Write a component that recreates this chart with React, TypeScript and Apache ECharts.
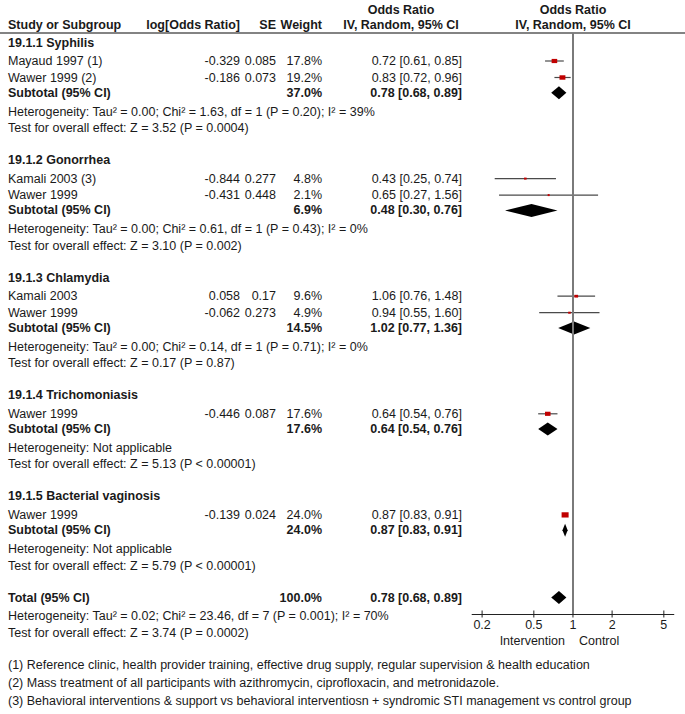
import React, { useEffect, useRef } from "react";
import * as echarts from "echarts";

// ---------------- data ----------------
const groupNames = [
  "19.1.1 Syphilis",
  "19.1.2 Gonorrhea",
  "19.1.3 Chlamydia",
  "19.1.4 Trichomoniasis",
  "19.1.5 Bacterial vaginosis",
];
const studyNames = [
  "Mayaud 1997 (1)",
  "Wawer 1999 (2)",
  "Kamali 2003 (3)",
  "Wawer 1999",
  "Kamali 2003",
  "Wawer 1999",
  "Wawer 1999",
  "Wawer 1999",
];
const studyGroup = [0, 0, 1, 1, 2, 2, 3, 4];
const studyLogOR = ["-0.329", "-0.186", "-0.844", "-0.431", "0.058", "-0.062", "-0.446", "-0.139"];
const studySE = ["0.085", "0.073", "0.277", "0.448", "0.17", "0.273", "0.087", "0.024"];
const studyWeight = [17.8, 19.2, 4.8, 2.1, 9.6, 4.9, 17.6, 24.0];
const studyOR = [0.72, 0.83, 0.43, 0.65, 1.06, 0.94, 0.64, 0.87];
const studyLo = [0.61, 0.72, 0.25, 0.27, 0.76, 0.55, 0.54, 0.83];
const studyHi = [0.85, 0.96, 0.74, 1.56, 1.48, 1.6, 0.76, 0.91];

const subtotalWeight = [37.0, 6.9, 14.5, 17.6, 24.0];
const subtotalOR = [0.78, 0.48, 1.02, 0.64, 0.87];
const subtotalLo = [0.68, 0.3, 0.77, 0.54, 0.83];
const subtotalHi = [0.89, 0.76, 1.36, 0.76, 0.91];
const heterogeneityTexts = [
  "Heterogeneity: Tau² = 0.00; Chi² = 1.63, df = 1 (P = 0.20); I² = 39%",
  "Heterogeneity: Tau² = 0.00; Chi² = 0.61, df = 1 (P = 0.43); I² = 0%",
  "Heterogeneity: Tau² = 0.00; Chi² = 0.14, df = 1 (P = 0.71); I² = 0%",
  "Heterogeneity: Not applicable",
  "Heterogeneity: Not applicable",
];
const overallEffectTexts = [
  "Test for overall effect: Z = 3.52 (P = 0.0004)",
  "Test for overall effect: Z = 3.10 (P = 0.002)",
  "Test for overall effect: Z = 0.17 (P = 0.87)",
  "Test for overall effect: Z = 5.13 (P < 0.00001)",
  "Test for overall effect: Z = 5.79 (P < 0.00001)",
];

const totalLabel = "Total (95% CI)";
const totalWeight = 100.0;
const totalOR = 0.78;
const totalLo = 0.68;
const totalHi = 0.89;
const totalHeterogeneity = "Heterogeneity: Tau² = 0.02; Chi² = 23.46, df = 7 (P = 0.001); I² = 70%";
const totalOverallEffect = "Test for overall effect: Z = 3.74 (P = 0.0002)";

const axisTicks = [0.2, 0.5, 1, 2, 5];
const favoursLabels = ["Intervention", "Control"];
const headerTop = ["Odds Ratio", "Odds Ratio"];
const headerColumns = ["Study or Subgroup", "log[Odds Ratio]", "SE", "Weight", "IV, Random, 95% CI", "IV, Random, 95% CI"];
const subtotalLabel = "Subtotal (95% CI)";
const footnotes = [
  "(1) Reference clinic, health provider training, effective drug supply, regular supervision & health education",
  "(2) Mass treatment of all participants with azithromycin, ciprofloxacin, and metronidazole.",
  "(3) Behavioral interventions & support vs behavioral interventiosn + syndromic STI management vs control group",
];

// ---------------- layout ----------------
const W = 685;
const H = 714;
const FONT = "'Liberation Sans Narrow', 'Arial Narrow', 'Liberation Sans', Arial, sans-serif";
const FS = 12.5;
const COL = { study: 8, logOR: 240, se: 276, weight: 322, ci: 462, ciHead: 401, plotHead: 573 };
const PLOT_LEFT = 472.1;
const PX_PER_DECADE = 130;
const PLOT_TOP = 33;
const PLOT_BOTTOM = 614;
const AX_PAD = 10 / PX_PER_DECADE;
const xMin = Math.log10(axisTicks[0]) - AX_PAD;
const xMax = Math.log10(axisTicks[axisTicks.length - 1]) + AX_PAD;

type Cell = { x: number; y: number; text: string; align: string; bold?: boolean };

const fmtCI = (o: number, l: number, h: number) => `${o.toFixed(2)} [${l.toFixed(2)}, ${h.toFixed(2)}]`;
const fmtW = (w: number) => `${w.toFixed(1)}%`;

function buildLayout() {
  const cells: Cell[] = [];
  const squares: number[][] = [];
  const diamonds: number[][] = [];
  cells.push({ x: COL.ciHead, y: 10, text: headerTop[0], align: "center", bold: true });
  cells.push({ x: COL.plotHead, y: 10, text: headerTop[1], align: "center", bold: true });
  const headX = [COL.study, COL.logOR, COL.se, COL.weight, COL.ciHead, COL.plotHead];
  const headA = ["left", "right", "right", "right", "center", "center"];
  headerColumns.forEach((t, i) => cells.push({ x: headX[i], y: 25, text: t, align: headA[i], bold: true }));

  let y = 42.5;
  groupNames.forEach((g, gi) => {
    cells.push({ x: COL.study, y, text: g, align: "left", bold: true });
    y += 18.5;
    const idx = studyGroup.map((v, i) => (v === gi ? i : -1)).filter((i) => i >= 0);
    idx.forEach((si, k) => {
      if (k > 0) y += 16.5;
      cells.push({ x: COL.study, y, text: studyNames[si], align: "left" });
      cells.push({ x: COL.logOR, y, text: studyLogOR[si], align: "right" });
      cells.push({ x: COL.se, y, text: studySE[si], align: "right" });
      cells.push({ x: COL.weight, y, text: fmtW(studyWeight[si]), align: "right" });
      cells.push({ x: COL.ci, y, text: fmtCI(studyOR[si], studyLo[si], studyHi[si]), align: "right" });
      squares.push([Math.log10(studyOR[si]), y, Math.log10(studyLo[si]), Math.log10(studyHi[si]), studyWeight[si]]);
    });
    y += 15.3;
    cells.push({ x: COL.study, y, text: subtotalLabel, align: "left", bold: true });
    cells.push({ x: COL.weight, y, text: fmtW(subtotalWeight[gi]), align: "right", bold: true });
    cells.push({ x: COL.ci, y, text: fmtCI(subtotalOR[gi], subtotalLo[gi], subtotalHi[gi]), align: "right", bold: true });
    diamonds.push([Math.log10(subtotalOR[gi]), y, Math.log10(subtotalLo[gi]), Math.log10(subtotalHi[gi])]);
    y += 19;
    cells.push({ x: COL.study, y, text: heterogeneityTexts[gi], align: "left" });
    y += 16.3;
    cells.push({ x: COL.study, y, text: overallEffectTexts[gi], align: "left" });
    y += 32;
  });
  cells.push({ x: COL.study, y, text: totalLabel, align: "left", bold: true });
  cells.push({ x: COL.weight, y, text: fmtW(totalWeight), align: "right", bold: true });
  cells.push({ x: COL.ci, y, text: fmtCI(totalOR, totalLo, totalHi), align: "right", bold: true });
  diamonds.push([Math.log10(totalOR), y, Math.log10(totalLo), Math.log10(totalHi)]);
  y += 18;
  cells.push({ x: COL.study, y, text: totalHeterogeneity, align: "left" });
  y += 17;
  cells.push({ x: COL.study, y, text: totalOverallEffect, align: "left" });
  y += 32.5;
  footnotes.forEach((f, i) => {
    cells.push({ x: COL.study, y: y + i * 18, text: f, align: "left" });
  });
  return { cells, squares, diamonds };
}

const fontOf = (bold?: boolean, size = FS) => `${bold ? "bold " : ""}${size}px ${FONT}`;

export default function App() {
  const ref = useRef<HTMLDivElement>(null);
  useEffect(() => {
    if (!ref.current) return;
    const chart = echarts.init(ref.current, undefined, { renderer: "svg" });
    const { cells, squares, diamonds } = buildLayout();
    const option: any = {
      animation: false,
      backgroundColor: "#ffffff",
      grid: [
        { left: 0, top: 0, width: W, height: H },
        { left: PLOT_LEFT, top: PLOT_TOP, width: (xMax - xMin) * PX_PER_DECADE, height: PLOT_BOTTOM - PLOT_TOP },
      ],
      xAxis: [
        { type: "value", gridIndex: 0, min: 0, max: W, show: false },
        {
          type: "value",
          gridIndex: 1,
          min: xMin,
          max: xMax,
          axisLine: { show: true, onZero: false, lineStyle: { color: "#222", width: 1 } },
          axisTick: { show: false },
          axisLabel: { show: false },
          splitLine: { show: false },
        },
      ],
      yAxis: [
        { type: "value", gridIndex: 0, min: 0, max: H, inverse: true, show: false },
        { type: "value", gridIndex: 1, min: PLOT_TOP, max: PLOT_BOTTOM, inverse: true, show: false },
      ],
      graphic: [
        { type: "line", shape: { x1: 0, y1: PLOT_TOP, x2: W, y2: PLOT_TOP }, style: { stroke: "#5a5a5a", lineWidth: 1.6 }, silent: true },
      ],
      series: [
        {
          type: "custom",
          xAxisIndex: 0,
          yAxisIndex: 0,
          silent: true,
          clip: false,
          data: cells.map((c) => [c.x, c.y]),
          renderItem: (params: any, api: any) => {
            const c = cells[params.dataIndex];
            const p = api.coord([api.value(0), api.value(1)]);
            return {
              type: "text",
              x: p[0],
              y: p[1],
              style: { text: c.text, fill: "#1a1a1a", font: fontOf(c.bold), align: c.align, verticalAlign: "middle" },
            };
          },
        },
        {
          // study squares with confidence intervals
          type: "custom",
          xAxisIndex: 1,
          yAxisIndex: 1,
          silent: true,
          clip: false,
          data: squares,
          renderItem: (params: any, api: any) => {
            const y = api.value(1);
            const c = api.coord([api.value(0), y]);
            const lo = api.coord([api.value(2), y]);
            const hi = api.coord([api.value(3), y]);
            const s = 1.5 + 0.23 * api.value(4);
            const h = Math.max(2, s * 0.75);
            return {
              type: "group",
              children: [
                { type: "line", shape: { x1: lo[0], y1: lo[1], x2: hi[0], y2: hi[1] }, style: { stroke: "#4a4a4a", lineWidth: 1.2 } },
                { type: "rect", shape: { x: c[0] - s / 2, y: c[1] - h / 2, width: s, height: h }, style: { fill: "#c00000" } },
              ],
            };
          },
          markLine: {
            silent: true,
            symbol: "none",
            label: { show: false },
            lineStyle: { color: "#7a7a7a", width: 2, type: "solid" },
            data: [{ xAxis: 0 }],
          },
        },
        {
          // pooled diamonds
          type: "custom",
          xAxisIndex: 1,
          yAxisIndex: 1,
          silent: true,
          clip: false,
          data: diamonds,
          renderItem: (params: any, api: any) => {
            const y = api.value(1);
            const c = api.coord([api.value(0), y]);
            const lo = api.coord([api.value(2), y]);
            const hi = api.coord([api.value(3), y]);
            const hh = 6.5;
            return {
              type: "polygon",
              shape: { points: [[lo[0], c[1]], [c[0], c[1] - hh], [hi[0], c[1]], [c[0], c[1] + hh]] },
              style: { fill: "#000" },
            };
          },
        },
        {
          // axis ticks and labels
          type: "custom",
          xAxisIndex: 1,
          yAxisIndex: 1,
          silent: true,
          clip: false,
          data: axisTicks.map((t) => [Math.log10(t), PLOT_BOTTOM]),
          renderItem: (params: any, api: any) => {
            const t = axisTicks[params.dataIndex];
            const p = api.coord([api.value(0), api.value(1)]);
            return {
              type: "group",
              children: [
                { type: "line", shape: { x1: p[0], y1: p[1] - 3.5, x2: p[0], y2: p[1] + 3.5 }, style: { stroke: "#222", lineWidth: 1 } },
                {
                  type: "text",
                  x: p[0],
                  y: p[1] + 11,
                  style: { text: String(t), fill: "#1a1a1a", font: fontOf(false), align: "center", verticalAlign: "middle" },
                },
              ],
            };
          },
        },
        {
          // favours labels
          type: "custom",
          xAxisIndex: 1,
          yAxisIndex: 1,
          silent: true,
          clip: false,
          data: favoursLabels.map(() => [0, PLOT_BOTTOM]),
          renderItem: (params: any, api: any) => {
            const p = api.coord([api.value(0), api.value(1)]);
            const left = params.dataIndex === 0;
            return {
              type: "text",
              x: left ? p[0] - 8 : p[0] + 6,
              y: p[1] + 27,
              style: {
                text: favoursLabels[params.dataIndex],
                fill: "#1a1a1a",
                font: fontOf(false),
                align: left ? "right" : "left",
                verticalAlign: "middle",
              },
            };
          },
        },
      ],
    };
    chart.setOption(option);
    return () => chart.dispose();
  }, []);
  return <div ref={ref} style={{ position: "fixed", left: 0, top: 0, width: W, height: H, background: "#fff" }} />;
}
